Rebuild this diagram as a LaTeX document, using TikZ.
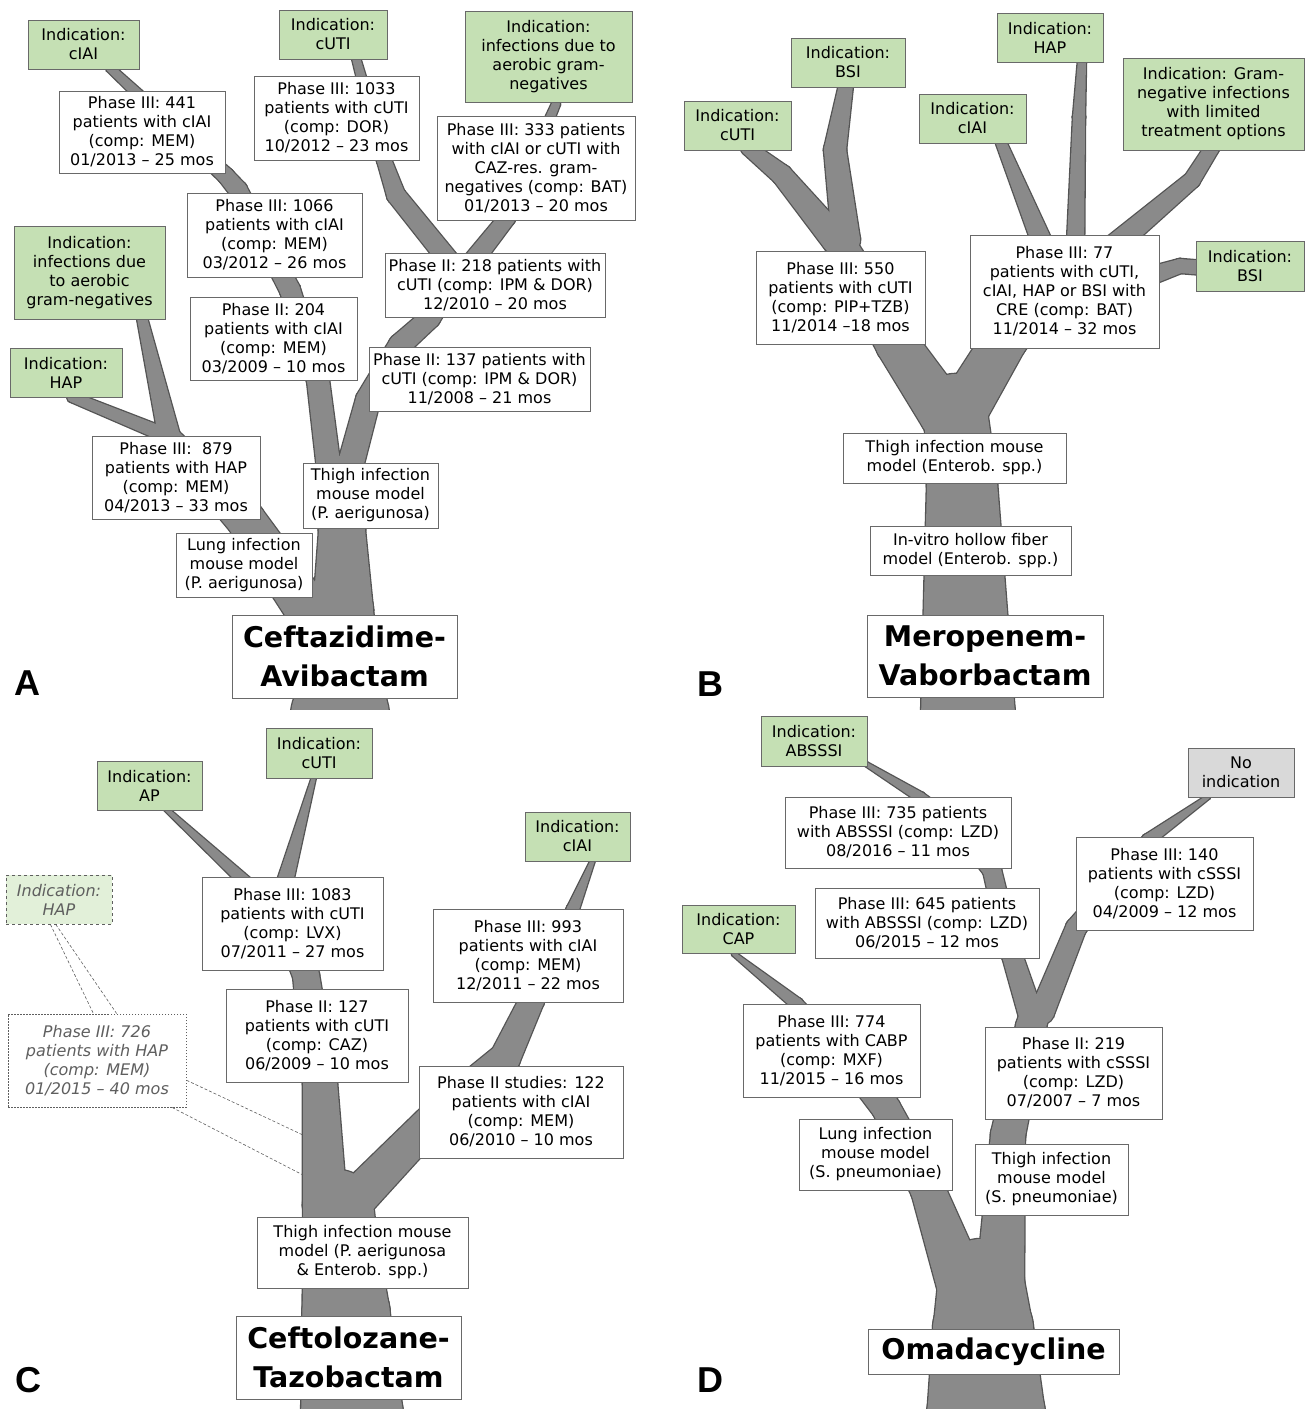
\documentclass[tikz,border=0pt]{standalone}
\usepackage{fontspec}
\setmainfont{DejaVu Sans}
\newfontfamily\panelfont{Liberation Sans}
\usetikzlibrary{calc}

\definecolor{leafGreen}{RGB}{197,224,180}
\definecolor{paleLeaf}{RGB}{226,240,217}
\definecolor{noLeaf}{RGB}{217,217,217}
\definecolor{boxLine}{RGB}{105,105,105}
\definecolor{ghostText}{RGB}{95,95,95}
\definecolor{barkFill}{RGB}{138,138,138}
\definecolor{barkEdge}{RGB}{84,84,84}

\begin{document}
\begin{tikzpicture}[
    x=1pt, y=-1pt,
    studyBox/.style = {
        draw=boxLine,
        line width=0.9pt,
        fill=white,
        align=center,
        inner sep=1pt,
        font=\fontsize{16}{19}\selectfont,
    },
    indication/.style = {
        studyBox,
        fill=leafGreen,
    },
    noIndication/.style = {
        studyBox,
        fill=noLeaf,
    },
    ghostIndication/.style = {
        studyBox,
        fill=paleLeaf,
        draw=ghostText,
        dashed,
        text=ghostText,
        font=\fontsize{16}{19}\selectfont\itshape,
    },
    ghostStudy/.style = {
        studyBox,
        draw=ghostText,
        dash pattern=on 1.5pt off 1.5pt,
        text=ghostText,
        font=\fontsize{16}{19}\selectfont\itshape,
    },
    drugName/.style = {
        studyBox,
        font=\fontsize{28.5}{39}\selectfont\bfseries,
    },
    panelLabel/.style = {
        anchor=base west,
        inner sep=0pt,
        font=\fontsize{36}{40}\selectfont\panelfont\bfseries,
    },
    hapLink/.style = {
        draw=ghostText,
        line width=0.6pt,
        dash pattern=on 3pt off 2pt,
    },
    edgeLimb/.style = {
        fill=barkEdge,
        draw=barkEdge,
        line width=2.6pt,
    },
    fillLimb/.style = {
        fill=barkFill,
    },
    limb/.style = {},
]

\useasboundingbox (0,0) rectangle (1306,1409);

% box from its corners: name, x1, y1, x2, y2, text
\newcommand{\study}[7][studyBox]{
    \node[#1, minimum width={(#5-#3)*1pt}, minimum height={(#6-#4)*1pt}]
        (#2) at ({(#3+#5)/2},{(#4+#6)/2}) {#7};
}

% tapered piece of a branch: x1, y1, width1, x2, y2, width2
\newcommand{\limbSeg}[6]{
    \path[limb] let \p1=(#1,#2), \p2=(#4,#5),
        \n1={atan2(\y2-\y1,\x2-\x1)} in
        ($(\p1)+(\n1+90:#3*0.5pt)$) -- ($(\p2)+(\n1+90:#6*0.5pt)$)
        -- ($(\p2)+(\n1-90:#6*0.5pt)$) -- ($(\p1)+(\n1-90:#3*0.5pt)$) -- cycle;
    \path[limb] (#1,#2) circle[radius=#3*0.5pt];
    \path[limb] (#4,#5) circle[radius=#6*0.5pt];
}

\newcommand{\grow}[1]{
    \begin{scope}[limb/.style=edgeLimb] #1 \end{scope}
    \begin{scope}[limb/.style=fillLimb] #1 \end{scope}
}

\newcommand{\treeA}{
    \limbSeg{340}{716}{98}{343}{610}{60}
    \limbSeg{343}{610}{60}{342}{530}{46}
    \limbSeg{342}{530}{46}{338}{478}{44}
    % up to cIAI
    \limbSeg{330}{478}{24}{318}{380}{22}
    \limbSeg{318}{380}{22}{290}{290}{20}
    \limbSeg{290}{290}{20}{238}{190}{18}
    \limbSeg{238}{190}{18}{226}{176}{16}
    \limbSeg{226}{176}{16}{110}{68}{8}
    % up to cUTI and gram-negatives
    \limbSeg{347}{478}{26}{368}{400}{24}
    \limbSeg{368}{400}{24}{400}{345}{22}
    \limbSeg{400}{345}{22}{430}{318}{20}
    \limbSeg{430}{318}{20}{458}{272}{20}
    \limbSeg{458}{272}{20}{396}{195}{18}
    \limbSeg{396}{195}{18}{384}{160}{14}
    \limbSeg{384}{160}{14}{356}{58}{8}
    \limbSeg{462}{275}{20}{507}{218}{16}
    \limbSeg{507}{218}{16}{556}{104}{8}
    % lung model, HAP
    \limbSeg{322}{630}{46}{246}{520}{38}
    \limbSeg{246}{520}{38}{170}{440}{24}
    \limbSeg{170}{440}{22}{142}{318}{10}
    \limbSeg{165}{435}{14}{72}{397}{10}
}

\newcommand{\treeB}{
    \limbSeg{968}{716}{94}{962}{483}{70}
    \limbSeg{962}{483}{70}{955}{405}{62}
    % cUTI and BSI
    \limbSeg{945}{415}{50}{897}{344}{42}
    \limbSeg{897}{344}{42}{843}{250}{32}
    \limbSeg{843}{250}{32}{840}{238}{30}
    \limbSeg{836}{240}{28}{782}{175}{20}
    \limbSeg{782}{175}{20}{748}{148}{14}
    \limbSeg{846}{240}{28}{835}{150}{22}
    \limbSeg{835}{150}{22}{846}{85}{14}
    % the CRE study
    \limbSeg{960}{415}{50}{1005}{340}{44}
    \limbSeg{1005}{340}{44}{1065}{265}{38}
    \limbSeg{1050}{262}{22}{1000}{140}{10}
    \limbSeg{1075}{262}{18}{1079}{117}{12}
    \limbSeg{1079}{117}{12}{1082}{60}{8}
    \limbSeg{1095}{262}{24}{1192}{180}{16}
    \limbSeg{1192}{180}{16}{1212}{148}{14}
    \limbSeg{1150}{276}{18}{1180}{266}{14}
    \limbSeg{1180}{266}{14}{1205}{268}{14}
}

\newcommand{\treeC}{
    \limbSeg{352}{1416}{102}{346}{1313}{87}
    \limbSeg{346}{1313}{87}{340}{1240}{74}
    \limbSeg{340}{1240}{74}{338}{1205}{70}
    % cUTI and AP
    \limbSeg{325}{1205}{44}{320}{1082}{34}
    \limbSeg{320}{1082}{34}{306}{975}{26}
    \limbSeg{306}{975}{26}{275}{900}{22}
    \limbSeg{265}{900}{14}{165}{808}{4}
    \limbSeg{280}{900}{18}{314}{777}{4}
    % cIAI
    \limbSeg{350}{1205}{40}{440}{1112}{32}
    \limbSeg{440}{1112}{32}{505}{1058}{30}
    \limbSeg{505}{1058}{30}{532}{1000}{24}
    \limbSeg{532}{1000}{24}{573}{909}{12}
    \limbSeg{573}{909}{12}{593}{860}{4}
}

\newcommand{\treeD}{
    \limbSeg{986}{1416}{118}{983}{1330}{100}
    \limbSeg{983}{1330}{100}{981}{1282}{86}
    % lung model, CAP
    \limbSeg{962}{1285}{50}{928}{1190}{34}
    \limbSeg{928}{1190}{34}{886}{1108}{28}
    \limbSeg{886}{1108}{28}{797}{1004}{12}
    \limbSeg{797}{1004}{12}{734}{954}{4}
    % thigh model, ABSSSI, no indication
    \limbSeg{1000}{1285}{48}{1008}{1135}{34}
    \limbSeg{1008}{1135}{34}{1031}{1027}{30}
    \limbSeg{1031}{1027}{30}{1036}{1008}{28}
    \limbSeg{1030}{1012}{24}{1012}{955}{20}
    \limbSeg{1012}{955}{20}{992}{870}{18}
    \limbSeg{992}{870}{18}{955}{825}{14}
    \limbSeg{955}{825}{14}{920}{797}{10}
    \limbSeg{920}{797}{10}{866}{764}{4}
    \limbSeg{1042}{1012}{24}{1076}{928}{20}
    \limbSeg{1076}{928}{20}{1148}{840}{12}
    \limbSeg{1148}{840}{12}{1208}{797}{4}
}

\begin{scope}
    \clip (0,0) rectangle (653,709);
    \grow{\treeA}
\end{scope}
\begin{scope}
    \clip (653,0) rectangle (1306,709);
    \grow{\treeB}
\end{scope}
\begin{scope}
    \clip (0,709) rectangle (653,1409);
    \grow{\treeC}
\end{scope}
\begin{scope}
    \clip (653,709) rectangle (1306,1409);
    \grow{\treeD}
\end{scope}

% A: Ceftazidime-Avibactam
\study[indication]{A cIAI}{28}{20}{139}{69}{Indication:\\cIAI}
\study[indication]{A cUTI}{279}{10}{387}{59}{Indication:\\cUTI}
\study[indication]{A gram}{465}{11}{632}{102}{Indication:\\infections due to\\aerobic gram-\\negatives}
\study{A 441}{59}{91}{225}{173}{Phase III: 441\\patients with cIAI\\(comp: MEM)\\01/2013 – 25 mos}
\study{A 1033}{254}{76}{419}{160}{Phase III: 1033\\patients with cUTI\\(comp: DOR)\\10/2012 – 23 mos}
\study{A 333}{437}{116}{635}{220}{Phase III: 333 patients\\with cIAI or cUTI with\\CAZ-res. gram-\\negatives (comp: BAT)\\01/2013 – 20 mos}
\study{A 1066}{187}{193}{362}{277}{Phase III: 1066\\patients with cIAI\\(comp: MEM)\\03/2012 – 26 mos}
\study[indication]{A gram left}{14}{226}{165}{319}{Indication:\\infections due\\to aerobic\\gram-negatives}
\study{A 218}{385}{253}{605}{317}{Phase II: 218 patients with\\cUTI (comp: IPM \& DOR)\\12/2010 – 20 mos}
\study{A 204}{190}{297}{357}{380}{Phase II: 204\\patients with cIAI\\(comp: MEM)\\03/2009 – 10 mos}
\study[indication]{A HAP}{10}{348}{122}{397}{Indication:\\HAP}
\study{A 137}{369}{347}{590}{411}{Phase II: 137 patients with\\cUTI (comp: IPM \& DOR)\\11/2008 – 21 mos}
\study{A 879}{92}{436}{260}{519}{Phase III:~ 879\\patients with HAP\\(comp: MEM)\\04/2013 – 33 mos}
\study{A thigh}{303}{463}{438}{528}{Thigh infection\\mouse model\\(P. aerigunosa)}
\study{A lung}{176}{533}{312}{597}{Lung infection\\mouse model\\(P. aerigunosa)}
\study[drugName]{A drug}{232}{615}{457}{698}{Ceftazidime-\\Avibactam}

% B: Meropenem-Vaborbactam
\study[indication]{B cUTI}{684}{101}{791}{150}{Indication:\\cUTI}
\study[indication]{B BSI}{791}{38}{905}{87}{Indication:\\BSI}
\study[indication]{B cIAI}{919}{94}{1026}{143}{Indication:\\cIAI}
\study[indication]{B HAP}{997}{13}{1103}{62}{Indication:\\HAP}
\study[indication]{B gram}{1123}{58}{1304}{150}{Indication: Gram-\\negative infections\\with limited\\treatment options}
\study[indication]{B BSI right}{1196}{241}{1304}{291}{Indication:\\BSI}
\study{B 550}{756}{251}{925}{344}{Phase III: 550\\patients with cUTI\\(comp: PIP+TZB)\\11/2014 –18 mos}
\study{B 77}{970}{235}{1159}{348}{Phase III: 77\\patients with cUTI,\\cIAI, HAP or BSI with\\CRE (comp: BAT)\\11/2014 – 32 mos}
\study{B thigh}{843}{433}{1066}{483}{Thigh infection mouse\\model (Enterob. spp.)}
\study{B fiber}{870}{526}{1071}{575}{In-vitro hollow fiber\\model (Enterob. spp.)}
\study[drugName]{B drug}{867}{615}{1103}{697}{Meropenem-\\Vaborbactam}

% C: Ceftolozane-Tazobactam
\study[indication]{C AP}{97}{761}{202}{810}{Indication:\\AP}
\study[indication]{C cUTI}{266}{728}{372}{778}{Indication:\\cUTI}
\study[indication]{C cIAI}{525}{812}{630}{861}{Indication:\\cIAI}
\study[ghostIndication]{C HAP}{6}{875}{112}{924}{Indication:\\HAP}
\study[ghostStudy]{C 726}{8}{1014}{186}{1107}{Phase III: 726\\patients with HAP\\(comp: MEM)\\01/2015 – 40 mos}
\study{C 1083}{202}{877}{383}{970}{Phase III: 1083\\patients with cUTI\\(comp: LVX)\\07/2011 – 27 mos}
\study{C 127}{226}{989}{408}{1082}{Phase II: 127\\patients with cUTI\\(comp: CAZ)\\06/2009 – 10 mos}
\study{C 993}{433}{909}{623}{1002}{Phase III: 993\\patients with cIAI\\(comp: MEM)\\12/2011 – 22 mos}
\study{C 122}{419}{1066}{623}{1158}{Phase II studies: 122\\patients with cIAI\\(comp: MEM)\\06/2010 – 10 mos}
\study{C thigh}{257}{1217}{468}{1288}{Thigh infection mouse\\model (P. aerigunosa\\\& Enterob. spp.)}
\study[drugName]{C drug}{236}{1316}{461}{1399}{Ceftolozane-\\Tazobactam}

\coordinate (C trunk upper) at (303,1135);
\coordinate (C trunk lower) at (303,1175);
\draw[hapLink] ($(C HAP.south west)!0.42!(C HAP.south east)$)
    -- ($(C 726.north west)!0.48!(C 726.north east)$);
\draw[hapLink] ($(C HAP.south west)!0.47!(C HAP.south east)$)
    -- ($(C 726.north west)!0.61!(C 726.north east)$);
\draw[hapLink] ($(C 726.north east)!0.71!(C 726.south east)$) -- (C trunk upper);
\draw[hapLink] ($(C 726.south west)!0.92!(C 726.south east)$) -- (C trunk lower);

% D: Omadacycline
\study[indication]{D ABSSSI}{761}{716}{867}{766}{Indication:\\ABSSSI}
\study[noIndication]{D none}{1188}{748}{1294}{797}{No\\indication}
\study{D 735}{785}{797}{1011}{868}{Phase III: 735 patients\\with ABSSSI (comp: LZD)\\08/2016 – 11 mos}
\study{D 140}{1076}{837}{1253}{930}{Phase III: 140\\patients with cSSSI\\(comp: LZD)\\04/2009 – 12 mos}
\study{D 645}{815}{888}{1039}{958}{Phase III: 645 patients\\with ABSSSI (comp: LZD)\\06/2015 – 12 mos}
\study[indication]{D CAP}{682}{905}{795}{953}{Indication:\\CAP}
\study{D 774}{743}{1004}{920}{1097}{Phase III: 774\\patients with CABP\\(comp: MXF)\\11/2015 – 16 mos}
\study{D 219}{985}{1027}{1162}{1119}{Phase II: 219\\patients with cSSSI\\(comp: LZD)\\07/2007 – 7 mos}
\study{D lung}{799}{1119}{952}{1190}{Lung infection\\mouse model\\(S. pneumoniae)}
\study{D thigh}{975}{1144}{1128}{1215}{Thigh infection\\mouse model\\(S. pneumoniae)}
\study[drugName]{D drug}{868}{1329}{1119}{1374}{Omadacycline}

\node[panelLabel] (label A) at (14,695) {A};
\node[panelLabel] (label B) at (697,696) {B};
\node[panelLabel] (label C) at (15,1392) {C};
\node[panelLabel] (label D) at (697,1392) {D};

\end{tikzpicture}
\end{document}
